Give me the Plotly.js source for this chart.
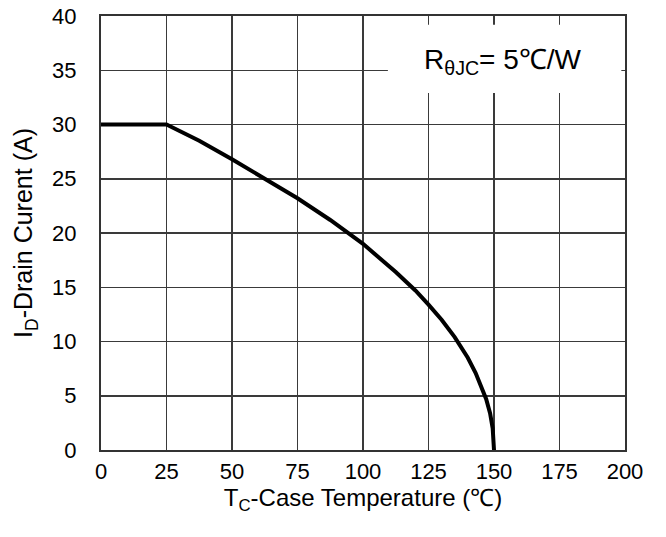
<!DOCTYPE html>
<html>
<head>
<meta charset="utf-8">
<script src="https://cdn.plot.ly/plotly-3.0.1.min.js"></script>
<style>html,body{margin:0;padding:0;background:#fff;}#chart{width:666px;height:537px;}</style>
</head>
<body>
<div id="chart"></div>
<script>
// Case temperature (°C)
const caseTemp = [0, 25, 30, 37.5, 50, 62.5, 75, 87.5, 100, 112.5, 120, 125, 130, 135, 140, 143, 145, 147, 148.5, 149.5, 150];
// Drain current (A)
const drainCurrent = [30, 30, 29.4, 28.5, 26.8, 25.0, 23.2, 21.2, 19.0, 16.4, 14.7, 13.4, 12.0, 10.4, 8.5, 7.1, 6.0, 4.7, 3.4, 2.0, 0];
const xTicks = [0, 25, 50, 75, 100, 125, 150, 175, 200];
const yTicks = [0, 5, 10, 15, 20, 25, 30, 35, 40];
const noteText = "R<sub>θJC</sub>= 5℃/W";

const font = {family: "Liberation Sans, Arial, sans-serif", color: "#000", size: 22};

const trace = {
  x: caseTemp, y: drainCurrent, type: "scatter", mode: "lines",
  line: {color: "#000", width: 4},
  showlegend: false, hoverinfo: "skip"
};

const layout = {
  width: 666, height: 537,
  margin: {l: 101, r: 41, t: 16, b: 87},
  paper_bgcolor: "#fff", plot_bgcolor: "#fff",
  font: font,
  xaxis: {
    range: [0, 200], tickvals: xTicks, ticktext: xTicks.map(String),
    showgrid: true, gridcolor: "#3a3a3a", gridwidth: 1.5,
    zeroline: false, showline: true, linecolor: "#333", linewidth: 2, mirror: true,
    ticks: "", ticklabelstandoff: 1, tickfont: {size: 22},
    title: {text: "T<sub>C</sub>-Case Temperature (℃)", font: {size: 24}, standoff: 4}
  },
  yaxis: {
    range: [0, 40], tickvals: yTicks, ticktext: yTicks.map(String),
    showgrid: true, gridcolor: "#3a3a3a", gridwidth: 1.5,
    zeroline: false, showline: true, linecolor: "#333", linewidth: 2, mirror: true,
    ticks: "", ticklabelstandoff: 18, tickfont: {size: 22},
    title: {text: "I<sub>D</sub>-Drain Curent (A)", font: {size: 25}, standoff: 12}
  },
  shapes: [{
    type: "rect", xref: "x", yref: "y", x0: 109.5, x1: 198.6, y0: 32.9, y1: 39.2,
    fillcolor: "#fff", line: {width: 0}, layer: "above"
  }],
  annotations: [{
    xref: "x", yref: "y", x: 153.4, y: 35.85, text: noteText, showarrow: false,
    font: {size: 28, color: "#000"}, xanchor: "center", yanchor: "middle"
  }]
};

Plotly.newPlot("chart", [trace], layout, {displayModeBar: false, staticPlot: true});
</script>
</body>
</html>
